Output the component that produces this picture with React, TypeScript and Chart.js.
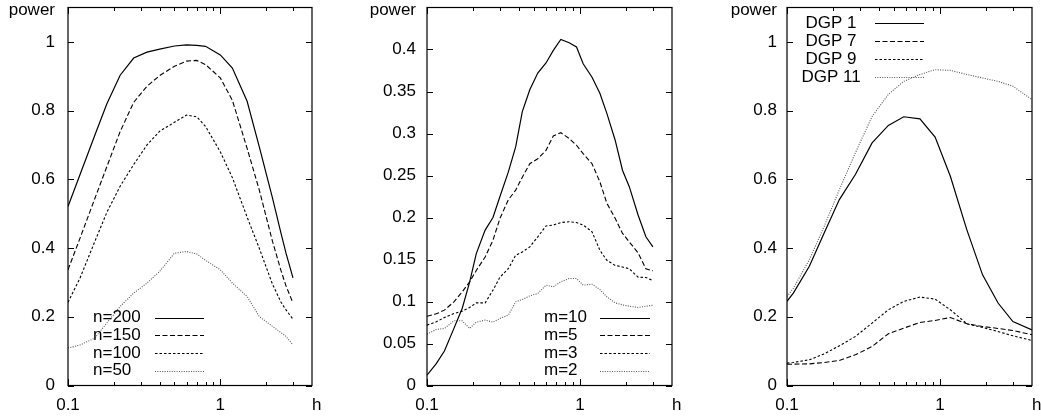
import React, { useEffect, useRef } from "react";
import { Chart, registerables } from "chart.js";

Chart.register(...registerables);

// ---------- data ----------
const h1 = [0.1, 0.12, 0.15, 0.18, 0.22, 0.27, 0.33, 0.4, 0.5, 0.6, 0.7, 0.8, 1, 1.2, 1.5, 1.8, 2.2, 2.5, 2.7, 3];
const n200 = [0.521, 0.614, 0.728, 0.82, 0.903, 0.953, 0.97, 0.979, 0.988, 0.991, 0.99, 0.987, 0.962, 0.924, 0.827, 0.696, 0.546, 0.444, 0.385, 0.313];
const n150 = [0.337, 0.429, 0.544, 0.637, 0.739, 0.824, 0.871, 0.902, 0.929, 0.944, 0.946, 0.934, 0.895, 0.83, 0.69, 0.57, 0.42, 0.335, 0.29, 0.24];
const n100 = [0.242, 0.313, 0.419, 0.504, 0.58, 0.643, 0.7, 0.74, 0.766, 0.787, 0.782, 0.754, 0.68, 0.605, 0.49, 0.4, 0.295, 0.243, 0.22, 0.193];
const n50 = [0.109, 0.118, 0.138, 0.182, 0.23, 0.269, 0.298, 0.332, 0.385, 0.39, 0.383, 0.364, 0.337, 0.298, 0.259, 0.201, 0.172, 0.154, 0.143, 0.118];

const h2 = [0.1, 0.115, 0.13, 0.15, 0.17, 0.19, 0.21, 0.24, 0.27, 0.3, 0.34, 0.38, 0.42, 0.47, 0.53, 0.6, 0.67, 0.75, 0.85, 0.95, 1.05, 1.2, 1.35, 1.5, 1.7, 1.9, 2.1, 2.4, 2.7, 3];
const m10 = [0.0123, 0.026, 0.041, 0.068, 0.092, 0.123, 0.157, 0.185, 0.2, 0.225, 0.254, 0.284, 0.326, 0.352, 0.372, 0.384, 0.399, 0.412, 0.408, 0.403, 0.383, 0.367, 0.348, 0.324, 0.292, 0.256, 0.237, 0.203, 0.177, 0.165];
const m5 = [0.0825, 0.0853, 0.0897, 0.0996, 0.1115, 0.1234, 0.137, 0.153, 0.173, 0.199, 0.221, 0.2325, 0.248, 0.264, 0.27, 0.28, 0.297, 0.301, 0.294, 0.286, 0.276, 0.264, 0.2425, 0.217, 0.199, 0.181, 0.171, 0.158, 0.139, 0.1365];
const m3 = [0.0718, 0.0758, 0.081, 0.0857, 0.0885, 0.0929, 0.0984, 0.0984, 0.1135, 0.129, 0.139, 0.155, 0.159, 0.165, 0.177, 0.19, 0.191, 0.194, 0.195, 0.194, 0.191, 0.183, 0.161, 0.149, 0.143, 0.141, 0.139, 0.129, 0.1286, 0.125];
const m2 = [0.0611, 0.0667, 0.0679, 0.077, 0.077, 0.0679, 0.0754, 0.0778, 0.0754, 0.0798, 0.0837, 0.0996, 0.1024, 0.1067, 0.1095, 0.1194, 0.1175, 0.1234, 0.1274, 0.1274, 0.1194, 0.1206, 0.1143, 0.1056, 0.0984, 0.096, 0.0944, 0.0929, 0.0944, 0.0956];

const h3 = [0.1, 0.11, 0.14, 0.175, 0.22, 0.28, 0.36, 0.46, 0.58, 0.74, 0.93, 1.17, 1.5, 1.9, 2.4, 3, 4];
const dgp1 = [0.245, 0.269, 0.347, 0.444, 0.541, 0.614, 0.706, 0.757, 0.782, 0.776, 0.723, 0.609, 0.453, 0.322, 0.24, 0.186, 0.162];
const dgp7 = [0.062, 0.062, 0.063, 0.067, 0.0728, 0.0893, 0.1136, 0.1505, 0.167, 0.1835, 0.1893, 0.198, 0.1796, 0.1718, 0.166, 0.16, 0.1476];
const dgp9 = [0.065, 0.067, 0.0748, 0.092, 0.1155, 0.1427, 0.1816, 0.2204, 0.2447, 0.2573, 0.2515, 0.2204, 0.1796, 0.169, 0.157, 0.1447, 0.131];
const dgp11 = [0.259, 0.283, 0.366, 0.463, 0.57, 0.677, 0.783, 0.847, 0.885, 0.905, 0.919, 0.917, 0.905, 0.895, 0.885, 0.871, 0.832];

const xTicks = [0.1, 0.2, 0.3, 0.4, 0.5, 0.6, 0.7, 0.8, 0.9, 1, 2, 3];
const xTickLabels = ["0.1", "1"];
const yTicksPower = [0, 0.2, 0.4, 0.6, 0.8, 1];
const yTicksSmall = [0, 0.05, 0.1, 0.15, 0.2, 0.25, 0.3, 0.35, 0.4];

const labels1 = ["n=200", "n=150", "n=100", "n=50"];
const labels2 = ["m=10", "m=5", "m=3", "m=2"];
const labels3 = ["DGP 1", "DGP 7", "DGP 9", "DGP 11"];

// ---------- styles ----------
const FONT = "Liberation Sans, Arial, sans-serif";
const FS = 17;
const lineStyles = [
  { color: "#000", dash: [] as number[], width: 1.2 },
  { color: "#000", dash: [5, 2.5], width: 1.1 },
  { color: "#000", dash: [2.5, 2], width: 1.1 },
  { color: "#555", dash: [1, 1.4], width: 1.1 },
];

type Panel = {
  left: number;
  width: number;
  plotLeft: number;
  plotRight: number;
  yMax: number;
  yTicks: number[];
  labelPad: number;
  h: number[];
  series: number[][];
  labels: string[];
  legend: { x: number; align: CanvasTextAlign; l1: number; l2: number; y0: number; dy: number };
};

const panels: Panel[] = [
  {
    left: 0, width: 345, plotLeft: 68, plotRight: 312, yMax: 1.1, yTicks: yTicksPower, labelPad: 13,
    h: h1, series: [n200, n150, n100, n50], labels: labels1,
    legend: { x: 93, align: "left", l1: 155, l2: 204, y0: 317.5, dy: 17.7 },
  },
  {
    left: 345, width: 345, plotLeft: 82, plotRight: 327, yMax: 0.45, yTicks: yTicksSmall, labelPad: 11,
    h: h2, series: [m10, m5, m3, m2], labels: labels2,
    legend: { x: 199, align: "left", l1: 255, l2: 305, y0: 317.5, dy: 17.7 },
  },
  {
    left: 690, width: 351, plotLeft: 97, plotRight: 342, yMax: 1.1, yTicks: yTicksPower, labelPad: 10,
    h: h3, series: [dgp1, dgp7, dgp9, dgp11], labels: labels3,
    legend: { x: 141, align: "center", l1: 185, l2: 234, y0: 23.3, dy: 18 },
  },
];

const TOP = 7.5;
const H = 417;
const XAXIS_H = 31.5;

function makeDecorPlugin(p: Panel) {
  return {
    id: "decor",
    afterDraw(chart: any) {
      const { ctx, chartArea: a } = chart;
      const xs = chart.scales.x;
      const ys = chart.scales.y;
      ctx.save();
      ctx.strokeStyle = "#000";
      ctx.lineWidth = 1.2;
      ctx.setLineDash([]);
      ctx.strokeRect(a.left, a.top, a.right - a.left, a.bottom - a.top);
      ctx.lineWidth = 1;
      ctx.beginPath();
      xTicks.forEach((v) => {
        const px = Math.round(xs.getPixelForValue(v)) + 0.5;
        const major = v === 0.1 || v === 1;
        const len = major ? 6.5 : 3.5;
        ctx.moveTo(px, a.bottom);
        ctx.lineTo(px, a.bottom - len);
        ctx.moveTo(px, a.top);
        ctx.lineTo(px, a.top + len);
      });
      p.yTicks.forEach((v) => {
        const py = Math.round(ys.getPixelForValue(v)) + 0.5;
        ctx.moveTo(a.left, py);
        ctx.lineTo(a.left + 6, py);
        ctx.moveTo(a.right, py);
        ctx.lineTo(a.right - 6, py);
      });
      ctx.stroke();

      ctx.fillStyle = "#000";
      ctx.font = `${FS}px ${FONT}`;
      ctx.textBaseline = "alphabetic";
      ctx.textAlign = "right";
      ctx.fillText("power", a.left - p.labelPad, 14.5);
      ctx.textAlign = "left";
      ctx.fillText("h", a.right, 410);

      // legend
      const lg = p.legend;
      chart.data.datasets.forEach((ds: any, i: number) => {
        const y = lg.y0 + i * lg.dy;
        ctx.textAlign = lg.align;
        ctx.textBaseline = "middle";
        ctx.fillStyle = "#000";
        ctx.fillText(ds.label, lg.x, y);
        ctx.beginPath();
        ctx.strokeStyle = ds.borderColor;
        ctx.lineWidth = ds.borderWidth;
        ctx.setLineDash(ds.borderDash || []);
        ctx.moveTo(lg.l1, Math.round(y) + 0.5);
        ctx.lineTo(lg.l2, Math.round(y) + 0.5);
        ctx.stroke();
      });
      ctx.restore();
    },
  };
}

function PanelChart({ p }: { p: Panel }) {
  const ref = useRef<HTMLCanvasElement | null>(null);
  useEffect(() => {
    if (!ref.current) return;
    const datasets = p.series.map((vals, i) => ({
      label: p.labels[i],
      data: p.h.map((x, k) => ({ x, y: vals[k] })),
      borderColor: lineStyles[i].color,
      borderWidth: lineStyles[i].width,
      borderDash: lineStyles[i].dash,
      pointRadius: 0,
      fill: false,
      tension: 0,
    }));
    const chart = new Chart(ref.current, {
      type: "line",
      data: { datasets },
      options: {
        animation: false,
        responsive: false,
        devicePixelRatio: 1,
        layout: { padding: { top: TOP, right: p.width - p.plotRight, left: 0, bottom: 0 } },
        plugins: { legend: { display: false }, tooltip: { enabled: false } },
        scales: {
          x: {
            type: "logarithmic",
            min: 0.1,
            max: 4,
            position: "bottom",
            grid: { display: false, drawTicks: false },
            border: { display: false },
            ticks: {
              autoSkip: false,
              maxRotation: 0,
              padding: 10,
              color: "#000",
              font: { family: FONT, size: FS },
              callback: (v: any) => {
                const s = String(v);
                return xTickLabels.includes(s) ? s : "";
              },
            },
            afterBuildTicks: (s: any) => {
              s.ticks = xTicks.map((v) => ({ value: v }));
            },
            afterFit: (s: any) => {
              s.height = XAXIS_H;
              s.paddingLeft = 0;
              s.paddingRight = 0;
            },
          },
          y: {
            type: "linear",
            min: 0,
            max: p.yMax,
            position: "left",
            grid: { display: false, drawTicks: false },
            border: { display: false },
            ticks: {
              padding: p.labelPad,
              color: "#000",
              font: { family: FONT, size: FS },
              callback: (v: any) => String(v),
            },
            afterBuildTicks: (s: any) => {
              s.ticks = p.yTicks.map((v) => ({ value: v }));
            },
            afterFit: (s: any) => {
              s.width = p.plotLeft;
              s.paddingTop = 0;
              s.paddingBottom = 0;
            },
          },
        },
      },
      plugins: [makeDecorPlugin(p)],
    } as any);
    return () => chart.destroy();
  }, [p]);
  return (
    <canvas
      ref={ref}
      width={p.width}
      height={H}
      style={{ position: "absolute", left: p.left, top: 0, width: p.width, height: H }}
    />
  );
}

export default function App() {
  return (
    <div style={{ position: "absolute", left: 0, top: 0, width: 1041, height: H, background: "#fff" }}>
      {panels.map((p, i) => (
        <PanelChart key={i} p={p} />
      ))}
    </div>
  );
}
